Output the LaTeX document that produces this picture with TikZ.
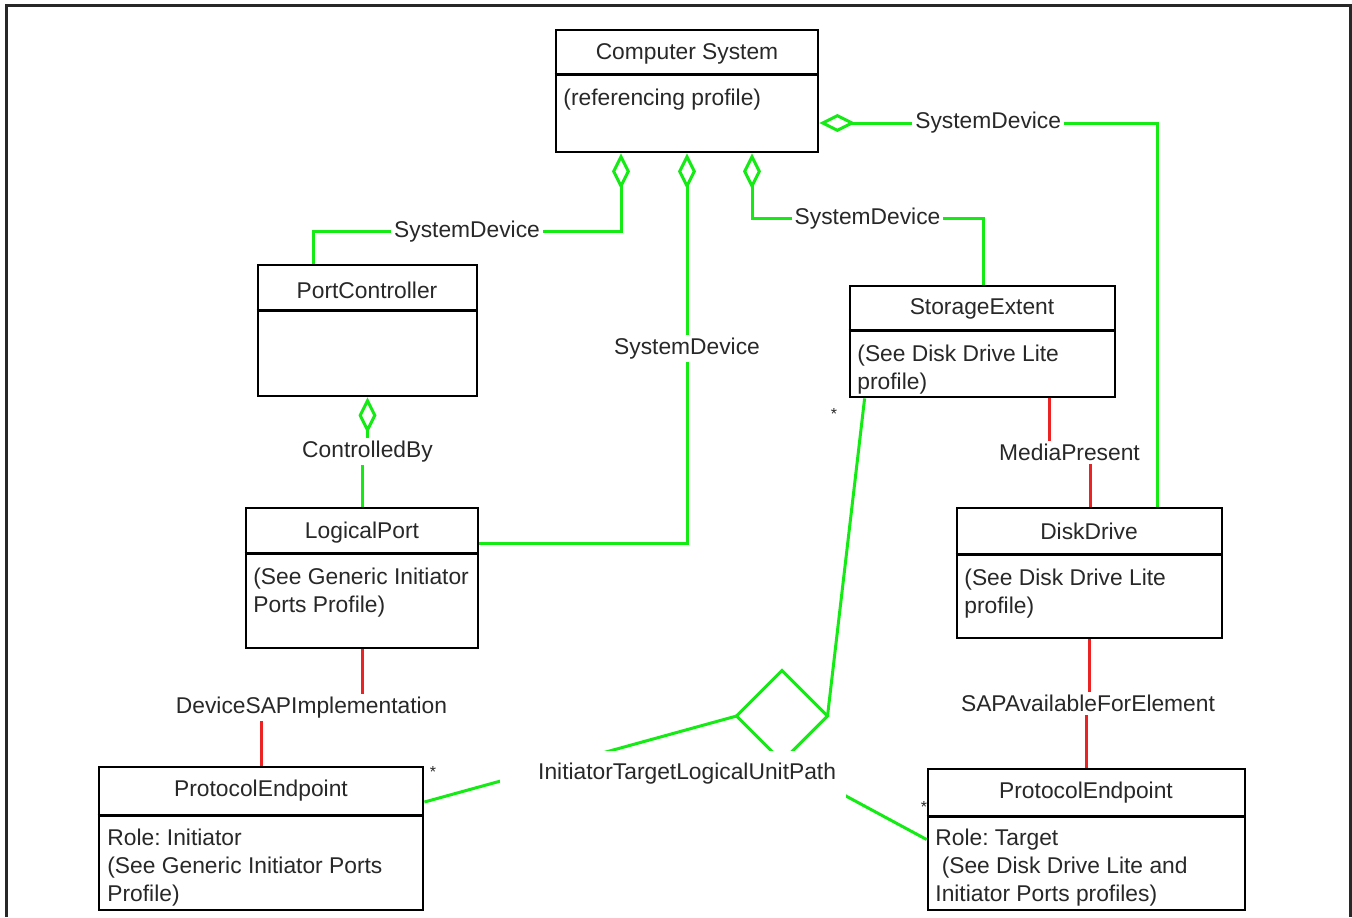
\documentclass[tikz,border=0pt]{standalone}
\usepackage{fontspec}
\setmainfont{Liberation Sans}
\usepackage{xcolor}
\usetikzlibrary{arrows.meta,shapes.geometric}
\definecolor{assocgreen}{RGB}{20,235,20}
\definecolor{assocred}{RGB}{235,35,35}
\definecolor{ink}{RGB}{40,40,40}
\frenchspacing

\tikzset{
  classbox/.style={draw=black, line width=1.4pt, fill=white, inner sep=0pt},
  divider/.style={draw=black, line width=1.4pt},
  title/.style={font=\fontsize{11.4}{14}\selectfont, text=ink, inner sep=0pt},
  body/.style={font=\fontsize{11.4}{14}\selectfont, text=ink, inner sep=0pt, align=left, anchor=north west},
  lbl/.style={font=\fontsize{11.4}{14}\selectfont, text=ink, fill=white, inner sep=1.5pt},
  mult/.style={font=\fontsize{8}{9}\selectfont, text=ink, inner sep=0pt, anchor=base},
  gline/.style={draw=assocgreen, line width=1.5pt},
  agg/.style={gline, {Diamond[open,length=18pt,width=9pt]}-},
  dep/.style={draw=assocred, line width=1.5pt}
}

\begin{document}
\begin{tikzpicture}[x=0.5pt, y=-0.5pt]
\useasboundingbox (0,0) rectangle (1352,917);
\draw[ink, line width=1.5pt] (6,917) -- (6,5) -- (1350,5) -- (1350,917);

\node[classbox, minimum width=131pt, minimum height=61pt] (cs) at (687,91) {};
\draw[divider] ([yshift=-23pt]cs.north west) -- ([yshift=-23pt]cs.north east);
\node[title] (cs-t) at (687,54) {Computer System};
\node[body] (cs-b) at (563,89) {(referencing profile)};

\node[classbox, minimum width=109.5pt, minimum height=65.5pt] (pc) at (367.5,330.5) {};
\draw[divider] ([yshift=-23.5pt]pc.north west) -- ([yshift=-23.5pt]pc.north east);
\node[title] (pc-t) at (367,290) {PortController};

\node[classbox, minimum width=116pt, minimum height=70pt] (lp) at (362,578) {};
\draw[divider] ([yshift=-23.5pt]lp.north west) -- ([yshift=-23.5pt]lp.north east);
\node[title] (lp-t) at (362,533) {LogicalPort};
\node[body] (lp-b) at (253,568) {(See Generic Initiator\\Ports Profile)};

\node[classbox, minimum width=132.5pt, minimum height=55.5pt] (se) at (982.5,341.5) {};
\draw[divider] ([yshift=-23pt]se.north west) -- ([yshift=-23pt]se.north east);
\node[title] (se-t) at (982,309) {StorageExtent};
\node[body] (se-b) at (857,345) {(See Disk Drive Lite\\profile)};

\node[classbox, minimum width=132.5pt, minimum height=65pt] (dd) at (1089.5,573) {};
\draw[divider] ([yshift=-24pt]dd.north west) -- ([yshift=-24pt]dd.north east);
\node[title] (dd-t) at (1089,531) {DiskDrive};
\node[body] (dd-b) at (964,569) {(See Disk Drive Lite\\profile)};

\node[classbox, minimum width=162pt, minimum height=71.5pt] (pel) at (261,838.5) {};
\draw[divider] ([yshift=-25pt]pel.north west) -- ([yshift=-25pt]pel.north east);
\node[title] (pel-t) at (261,791) {ProtocolEndpoint};
\node[body] (pel-b) at (107,829) {Role: Initiator\\(See Generic Initiator Ports\\Profile)};

\node[classbox, minimum width=158.5pt, minimum height=70.5pt] (per) at (1086.5,839.5) {};
\draw[divider] ([yshift=-24.5pt]per.north west) -- ([yshift=-24.5pt]per.north east);
\node[title] (per-t) at (1086,793) {ProtocolEndpoint};
\node[body] (per-b) at (935,829) {Role: Target\\~(See Disk Drive Lite and\\Initiator Ports profiles)};

\draw[agg] ([xshift=-33pt]cs.south) -- ++(0,78) -| node[lbl,pos=0.25] {SystemDevice} ([xshift=-27.25pt]pc.north);
\draw[agg] (cs.south) |- node[lbl,pos=0.25] {SystemDevice} ([yshift=17.5pt]lp.east);
\draw[agg] ([xshift=32.5pt]cs.south) -- ++(0,65) -| node[lbl,pos=0.25] {SystemDevice} ([xshift=0.25pt]se.north);
\draw[agg] ([yshift=-16pt]cs.east) -| node[lbl,pos=0.25] {SystemDevice} ([xshift=33.75pt]dd.north);
\draw[agg] (pc.south) -- ++(0,54) node[lbl] {ControlledBy} -| (lp.north);

\draw[dep] ([xshift=33.25pt]se.south) -- ++(0,54) -| node[lbl,pos=0.25] {MediaPresent} ([xshift=0.25pt]dd.north);
\draw[dep] (lp.south) -- ++(0,58) -| node[lbl,pos=0.25] {DeviceSAPImplementation} (pel.north);
\draw[dep] (dd.south) -- ++(0,64) -| node[lbl,pos=0.25] {SAPAvailableForElement} (per.north);

\node[diamond, draw=assocgreen, line width=1.5pt, minimum size=45.5pt, inner sep=0pt, outer sep=0pt] (itlu) at (782,716) {};
\draw[gline] ([xshift=8pt]se.south west) -- (itlu.east);
\draw[gline] ([yshift=18.25pt]pel.east) -- (itlu.west);
\draw[gline] (itlu.south) -- (per.west);
\node[lbl, text width=163pt, align=right, inner xsep=5pt, minimum height=23.5pt] (itlu-l) at (673,774) {InitiatorTargetLogicalUnitPath};

\node[mult] (m1) at (834,419) {*};
\node[mult] (m2) at (433,777) {*};
\node[mult] (m3) at (924,812) {*};
\end{tikzpicture}
\end{document}
